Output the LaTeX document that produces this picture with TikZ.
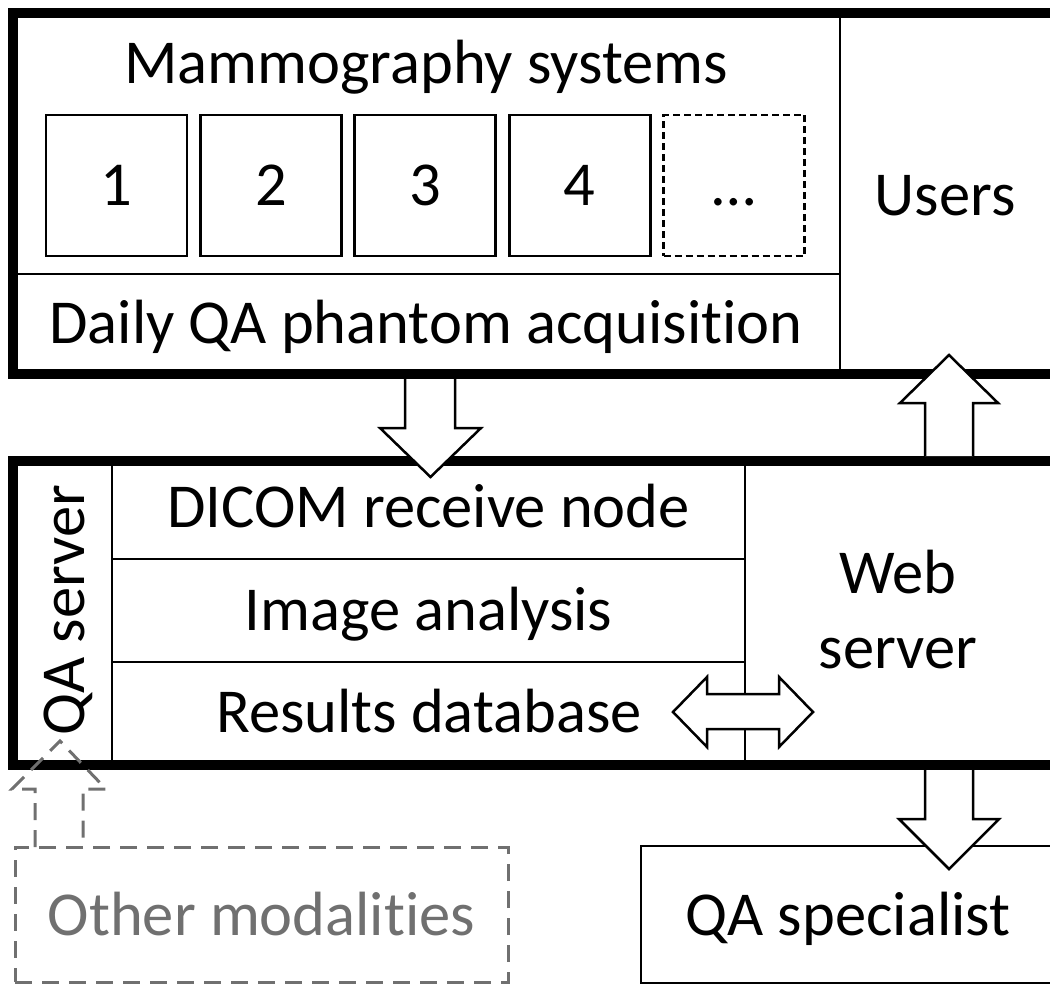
\documentclass[tikz,border=0pt]{standalone}
\usepackage{fontspec}
\setmainfont{Carlito}[Ligatures={NoCommon,NoRare,NoContextual}]
\newcommand\bigfont{\fontsize{62.5}{75}\selectfont}
\definecolor{mgray}{RGB}{112,112,112}
\begin{document}
\begin{tikzpicture}[x=1pt,y=-1pt,
  outerbox/.style={line width=10pt},
  divline/.style={line width=2pt},
  lbl/.style={font=\bigfont, inner sep=0pt, anchor=base},
  sysbox/.style={draw, line width=2.8pt, minimum width=141pt, minimum height=141pt, inner sep=0pt, font=\bigfont, text height=40pt, text depth=0pt},
  blockarrow/.style={draw, line width=2.5pt, fill=white, line join=miter},
  grayarrow/.style={draw=mgray, line width=3pt, dash pattern=on 17pt off 10pt},
]
\useasboundingbox (0,0) rectangle (1050,985);
\clip (0,0) rectangle (1050,985);

% top block
\draw[outerbox] (12.5,13) rectangle (1100,373.5);
\draw[divline] (840,13) -- (840,373.5);
\draw[divline] (12.5,274) -- (840,274);
\node[lbl] (mammo) at (426,83) {Mammography systems};
\node[sysbox] (s1) at (116.5,185.5) {1};
\node[sysbox] (s2) at (270.9,185.5) {2};
\node[sysbox] (s3) at (425.3,185.5) {3};
\node[sysbox] (s4) at (579.7,185.5) {4};
\node[sysbox, dash pattern=on 7pt off 4pt] (s5) at (734.1,185.5) {\ldots};
\node[lbl] (daily) at (426,343) {Daily QA phantom acquisition};
\node[lbl] (users) at (945,215) {Users};

% QA server block
\draw[outerbox] (12.5,461) rectangle (1100,764.5);
\draw[divline] (112,461) -- (112,764.5);
\draw[divline] (745,461) -- (745,764.5);
\draw[divline] (112,559) -- (745,559);
\draw[divline] (112,662) -- (745,662);
\node[lbl, rotate=90] (qaserver) at (84,610) {QA server};
\node[lbl] (dicom) at (428.5,527) {DICOM receive node};
\node[lbl] (analysis) at (428.5,630) {Image analysis};
\node[lbl] (results) at (429,732) {Results database};
\node[font=\bigfont, inner sep=0pt, align=center] (web) at (898,610) {Web\\server};

% bottom boxes
\draw[line width=2.5pt] (641,846) rectangle (1100,983);
\node[lbl] (specialist) at (848,935) {QA specialist};
\node[draw=mgray, line width=3pt, dash pattern=on 17pt off 10pt, minimum width=493pt, minimum height=135pt, inner sep=0pt, font=\bigfont, text=mgray] (other) at (261.5,914.5) {Other modalities};

% block arrows
\draw[blockarrow] (405,379) -- (405,428) -- (380,428) -- (430.5,477) -- (481,428) -- (455,428) -- (455,379);
\draw[blockarrow] (925,456) -- (925,403) -- (900,403) -- (949,355) -- (998,403) -- (973,403) -- (973,456);
\draw[blockarrow] (925,770) -- (925,819) -- (899,819) -- (949,869) -- (999,819) -- (973,819) -- (973,770);
\draw[blockarrow] (673,712) -- (707,677) -- (707,694) -- (779,694) -- (779,677) -- (813,712) -- (779,747) -- (779,729) -- (707,729) -- (707,747) -- cycle;
\draw[grayarrow] (35,847) -- (35,789) -- (12,789) -- (60,741) -- (106,789) -- (83,789) -- (83,847);
\end{tikzpicture}
\end{document}
